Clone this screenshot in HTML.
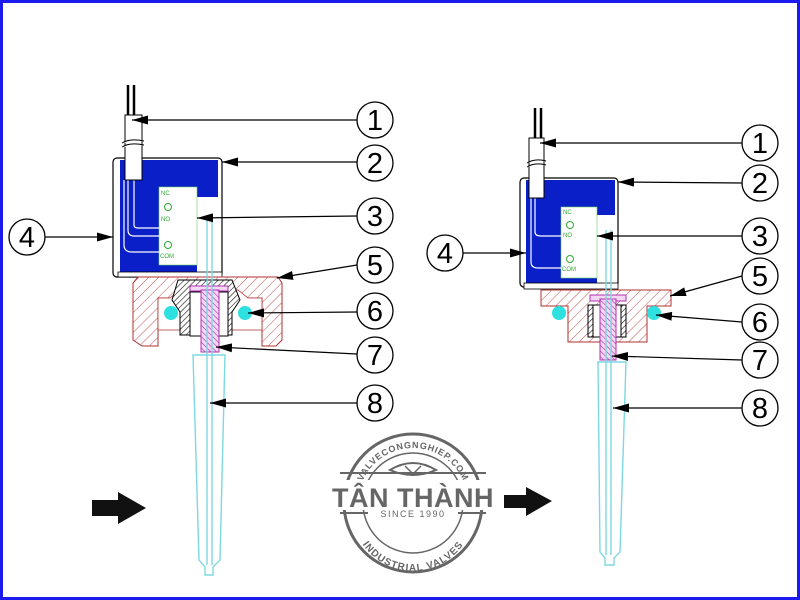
<!DOCTYPE html>
<html><head><style>
html,body{margin:0;padding:0;background:#fff}
svg{display:block}
</style></head><body>
<svg width="800" height="600" viewBox="0 0 800 600" xmlns="http://www.w3.org/2000/svg" font-family="Liberation Sans, sans-serif">
<defs>
<pattern id="hr" width="7" height="7" patternUnits="userSpaceOnUse" patternTransform="rotate(45)"><rect width="7" height="7" fill="#fff"/><line x1="0" y1="0" x2="0" y2="7" stroke="#c0504d" stroke-width="1"/></pattern>
<pattern id="hk" width="4" height="4" patternUnits="userSpaceOnUse" patternTransform="rotate(45)"><rect width="4" height="4" fill="#fff"/><line x1="0" y1="0" x2="0" y2="4" stroke="#111" stroke-width="1.2"/></pattern>
<pattern id="hm" width="4" height="4" patternUnits="userSpaceOnUse" patternTransform="rotate(-45)"><rect width="4" height="4" fill="#f4d8f4"/><line x1="0" y1="0" x2="0" y2="4" stroke="#b030b0" stroke-width="1.2"/></pattern>
<marker id="ah" markerWidth="16" markerHeight="9" refX="16" refY="4.5" orient="auto" markerUnits="userSpaceOnUse"><path d="M0,0 L16,4.5 L0,9 Z" fill="#000"/></marker>
</defs>
<rect x="1.5" y="1.5" width="797" height="597" fill="#fff" stroke="#1b1bf0" stroke-width="3"/>

<!-- LEFT DIAGRAM -->
<g>
<line x1="128" y1="85" x2="128" y2="115" stroke="#000" stroke-width="2.5"/>
<line x1="134" y1="85" x2="134" y2="115" stroke="#000" stroke-width="2.5"/>
<rect x="113" y="158" width="109" height="119" rx="4" fill="#fff" stroke="#000" stroke-width="1.2"/>
<rect x="120" y="160" width="98" height="112" fill="#0b1fc8"/>
<rect x="197" y="197" width="21" height="75" fill="#fff"/>
<rect x="159" y="187" width="38" height="78" fill="#fff" stroke="#6c6" stroke-width="0.6"/>
<text x="161" y="195" font-size="6" fill="#3a3">NC</text>
<circle cx="168" cy="207" r="3.5" fill="none" stroke="#3a3"/>
<text x="161" y="221" font-size="6" fill="#3a3">NO</text>
<circle cx="168" cy="245" r="3.5" fill="none" stroke="#3a3"/>
<text x="160" y="258" font-size="6" fill="#3a3">COM</text>
<path d="M128,180 V230 Q128,236 134,236 H159 M134,180 V225 Q134,228 138,228 H159" fill="none" stroke="#fff" stroke-width="1.2"/>
<path d="M124,180 V245 Q124,252 132,252 H159" fill="none" stroke="#fff" stroke-width="1.2"/>
<rect x="125" y="115" width="17" height="65" fill="#fff" stroke="#000"/>
<path d="M122,143 q8,-5 22,-2 M122,147 q8,-5 22,-2" stroke="#000" fill="#fff"/>
<rect x="118" y="272" width="104" height="5" fill="#fff" stroke="#000" stroke-width="0.8"/>
<!-- base -->
<path d="M138,277 H278 L282,283 V340 L276,346 H262 V298 H246 L238,290 H180 L172,298 H158 V346 H142 L133,340 V283 Z" fill="url(#hr)" stroke="#b03030" stroke-width="1"/>
<path d="M158,298 L170,298 L180,290 H238 L248,298 H262 V330 H158 Z" fill="#fff" stroke="#b03030" stroke-width="0.8"/>
<path d="M178,280 H232 L240,300 L232,312 V335 H180 V312 L172,300 Z" fill="url(#hk)" stroke="#000"/>
<rect x="190" y="292" width="38" height="44" fill="#fff" stroke="#000"/>
<circle cx="171" cy="313" r="7" fill="#2ee0e0"/>
<circle cx="245" cy="313" r="7" fill="#2ee0e0"/>
<rect x="190" y="286" width="38" height="5" fill="#f4d8f4" stroke="#b030b0"/>
<rect x="201" y="290" width="18" height="62" fill="url(#hm)" stroke="#b030b0"/>
<!-- probe -->
<path d="M193,355 H225 L220,560 L213,567 V575 H205 V567 L199,560 Z" fill="none" stroke="#7dd8e0" stroke-width="1.4"/>
<path d="M207,215 V565 M212,215 V565" stroke="#7dd8e0" stroke-width="1.4"/>
<path d="M92,500 H118 V492 L146,508 L118,524 V516 H92 Z" fill="#111"/>
</g>

<!-- RIGHT DIAGRAM -->
<g>
<line x1="535" y1="108" x2="535" y2="138" stroke="#000" stroke-width="2.5"/>
<line x1="541" y1="108" x2="541" y2="138" stroke="#000" stroke-width="2.5"/>
<rect x="520" y="178" width="98" height="109" rx="4" fill="#fff" stroke="#000" stroke-width="1.2"/>
<rect x="526" y="180" width="89" height="103" fill="#0b1fc8"/>
<rect x="597" y="215" width="18" height="68" fill="#fff"/>
<rect x="561" y="207" width="36" height="71" fill="#fff" stroke="#6c6" stroke-width="0.6"/>
<text x="563" y="214" font-size="6" fill="#3a3">NC</text>
<circle cx="570" cy="225" r="3.5" fill="none" stroke="#3a3"/>
<text x="563" y="237" font-size="6" fill="#3a3">NO</text>
<circle cx="570" cy="259" r="3.5" fill="none" stroke="#3a3"/>
<text x="562" y="271" font-size="6" fill="#3a3">COM</text>
<path d="M535,198 V232 Q535,236 541,236 H561" fill="none" stroke="#fff" stroke-width="1.2"/>
<path d="M531,198 V262 Q531,268 538,268 H561" fill="none" stroke="#fff" stroke-width="1.2"/>
<rect x="529" y="138" width="15" height="60" fill="#fff" stroke="#000"/>
<path d="M527,163 q8,-5 19,-2 M527,167 q8,-5 19,-2" stroke="#000" fill="#fff"/>
<rect x="524" y="283" width="94" height="6" fill="#fff" stroke="#000" stroke-width="0.8"/>
<path d="M541,290 H671 V306 H647 V342 H568 V306 H541 Z" fill="url(#hr)" stroke="#b03030"/>
<rect x="588" y="305" width="38" height="32" fill="#fff" stroke="#000"/>
<path d="M588,305 H593 V337 H588 Z M621,305 H626 V337 H621 Z" fill="url(#hk)" stroke="#000"/>
<circle cx="559" cy="313" r="7" fill="#2ee0e0"/>
<circle cx="654" cy="313" r="7" fill="#2ee0e0"/>
<rect x="590" y="295" width="36" height="6" fill="#f4d8f4" stroke="#b030b0"/>
<rect x="600" y="299" width="16" height="61" fill="url(#hm)" stroke="#b030b0"/>
<path d="M598,362 H626 L620,552 L614,558 V565 H605 V558 L600,552 Z" fill="none" stroke="#7dd8e0" stroke-width="1.4"/>
<path d="M606,230 V555 M611,230 V555" stroke="#7dd8e0" stroke-width="1.4"/>
<path d="M504,495 H526 V487 L552,501 L526,516 V508 H504 Z" fill="#111"/>
</g>

<g stroke="#000" stroke-width="1.2" marker-end="url(#ah)">
<line x1="357" y1="120" x2="132" y2="120"/>
<line x1="357" y1="162" x2="222" y2="162"/>
<line x1="357" y1="216" x2="197" y2="218"/>
<line x1="45" y1="237" x2="113" y2="237"/>
<line x1="357" y1="265" x2="277" y2="278"/>
<line x1="357" y1="312" x2="248" y2="313"/>
<line x1="357" y1="354" x2="216" y2="347"/>
<line x1="357" y1="403" x2="210" y2="403"/>
<line x1="742" y1="143" x2="540" y2="143"/>
<line x1="742" y1="183" x2="618" y2="182"/>
<line x1="742" y1="236" x2="597" y2="236"/>
<line x1="463" y1="253" x2="526" y2="253"/>
<line x1="742" y1="276" x2="670" y2="296"/>
<line x1="742" y1="322" x2="656" y2="315"/>
<line x1="742" y1="360" x2="612" y2="356"/>
<line x1="742" y1="408" x2="613" y2="408"/>
</g>

<g fill="#fff" stroke="#000" stroke-width="1.3">
<circle cx="375" cy="120" r="18"/><circle cx="375" cy="163" r="18"/><circle cx="375" cy="216" r="18"/>
<circle cx="27" cy="237" r="18"/><circle cx="375" cy="265" r="18"/><circle cx="375" cy="311" r="18"/>
<circle cx="375" cy="355" r="18"/><circle cx="375" cy="403" r="18"/>
<circle cx="760" cy="143" r="18"/><circle cx="760" cy="183" r="18"/><circle cx="760" cy="236" r="18"/>
<circle cx="445" cy="253" r="18"/><circle cx="760" cy="276" r="18"/><circle cx="760" cy="322" r="18"/>
<circle cx="760" cy="360" r="18"/><circle cx="760" cy="408" r="18"/>
</g>
<g fill="#000" font-size="29" text-anchor="middle">
<text x="375" y="130">1</text><text x="375" y="173">2</text><text x="375" y="226">3</text>
<text x="27" y="247">4</text><text x="375" y="275">5</text><text x="375" y="321">6</text>
<text x="375" y="365">7</text><text x="375" y="413">8</text>
<text x="760" y="153">1</text><text x="760" y="193">2</text><text x="760" y="246">3</text>
<text x="445" y="263">4</text><text x="760" y="286">5</text><text x="760" y="332">6</text>
<text x="760" y="370">7</text><text x="760" y="418">8</text>
</g>

<g fill="none" stroke="#666">
<circle cx="413" cy="503" r="69" stroke-width="3"/>
<circle cx="413" cy="503" r="50" stroke-width="1.5"/>
<line x1="340" y1="473" x2="486" y2="473" stroke-width="2"/>
<line x1="340" y1="513" x2="486" y2="513" stroke-width="2"/>
<path d="M390,470 q23,-14 46,0 q-23,10 -46,0 Z" stroke-width="2"/>
<path d="M405,466 l8,8 l8,-8" stroke-width="1.5"/>
</g>
<rect x="333" y="480" width="160" height="30" fill="#fff"/>
<text x="413" y="507" font-size="27" font-weight="bold" fill="#666" text-anchor="middle" letter-spacing="0.5">TÂN THÀNH</text>
<rect x="368" y="508" width="90" height="10" fill="#fff"/>
<text x="413" y="517" font-size="9" fill="#666" text-anchor="middle" letter-spacing="1.5">SINCE 1990</text>
<path id="tp" d="M358,503 A55,55 0 0 1 468,503" fill="none"/>
<text font-size="9" font-weight="bold" fill="#666" letter-spacing="0.8"><textPath href="#tp" startOffset="50%" text-anchor="middle">VALVECONGNGHIEP.COM</textPath></text>
<path id="bp" d="M352,510 A61,61 0 0 0 474,510" fill="none"/>
<text font-size="10" font-weight="bold" fill="#666" letter-spacing="1"><textPath href="#bp" startOffset="50%" text-anchor="middle">INDUSTRIAL VALVES</textPath></text>
</svg>
</body></html>
